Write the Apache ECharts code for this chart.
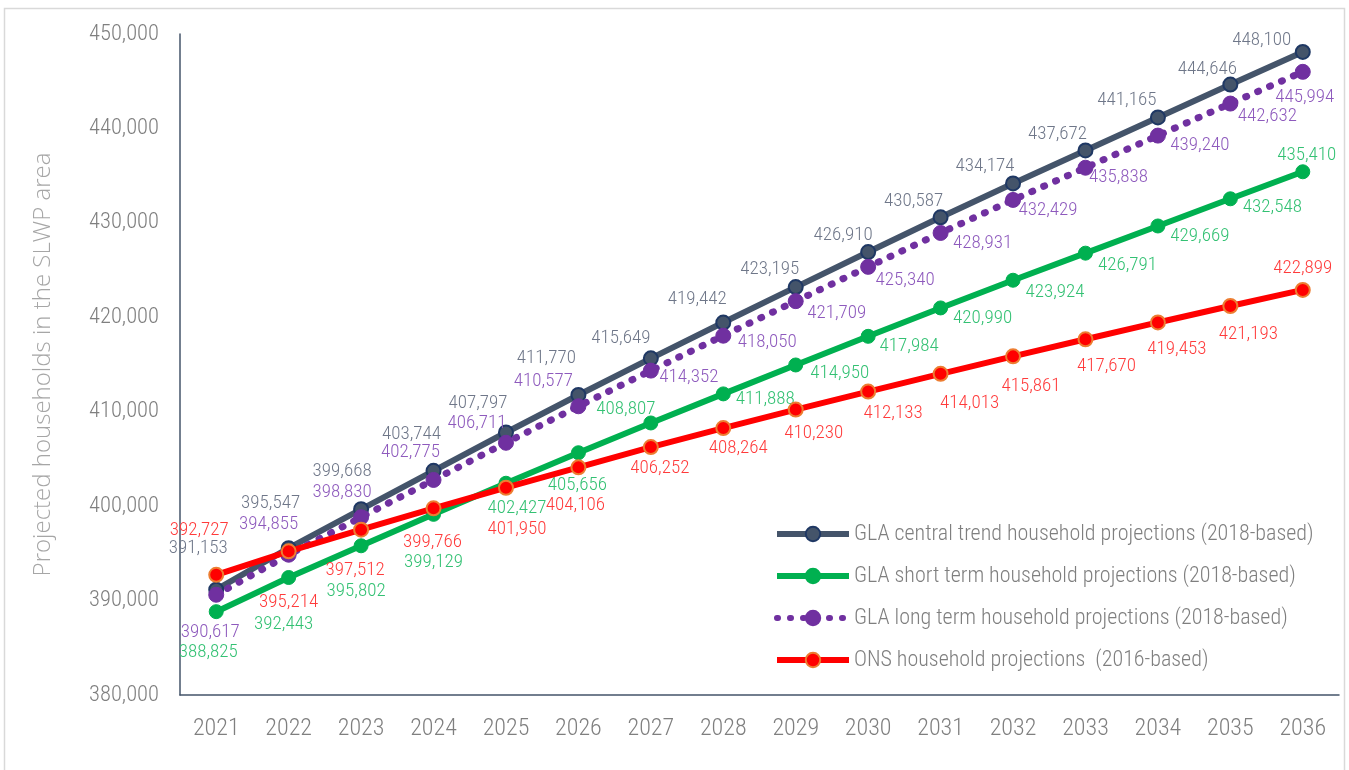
<!DOCTYPE html>
<html>
<head>
<meta charset="utf-8">
<script src="https://cdn.jsdelivr.net/npm/echarts@6/dist/echarts.min.js"></script>
<style>
html,body{margin:0;padding:0;background:#fff;}
#chart{width:1349px;height:770px;}
</style>
</head>
<body>
<div id="chart"></div>
<script>
const years = ['2021','2022','2023','2024','2025','2026','2027','2028','2029','2030','2031','2032','2033','2034','2035','2036'];
const centralTrend = [391153,395547,399668,403744,407797,411770,415649,419442,423195,426910,430587,434174,437672,441165,444646,448100];
const shortTerm = [388825,392443,395802,399129,402427,405656,408807,411888,414950,417984,420990,423924,426791,429669,432548,435410];
const longTerm = [390617,394855,398830,402775,406711,410577,414352,418050,421709,425340,428931,432429,435838,439240,442632,445994];
const onsProj = [392727,395214,397512,399766,401950,404106,406252,408264,410230,412133,414013,415861,417670,419453,421193,422899];
const seriesNames = [
  'GLA central trend household projections (2018-based)',
  'GLA short term household projections (2018-based)',
  'GLA long term household projections (2018-based)',
  'ONS household projections  (2016-based)'
];
const yAxisName = 'Projected households in the SLWP area';

// label placement (offset of label centre from its point), kept separate from data
const centralOffsets = [[-18,-41],[-18,-45],[-19,-38],[-22,-37],[-28,-29],[-32,-37],[-30,-20],[-26,-23],[-26,-18],[-25,-17],[-27,-16],[-28,-17],[-28,-16],[-31,-17],[-23,-15],[-41,-12]];
const shortOffsets = [[-8,41],[-5,47],[-5,45],[0,48],[11,25],[-1,33],[-25,-14],[42,5],[44,8],[41,10],[42,10],[42,12],[42,12],[42,10],[42,8],[4,-17]];
const longOffsets = [[-6,38],[-20,-30],[-19,-25],[-23,-28],[-29,-20],[-35,-25],[38,7],[44,7],[41,12],[37,13],[42,10],[35,10],[33,10],[42,10],[37,13],[2,25]];
const onsOffsets = [[-17,-45],[0,51],[-6,41],[-1,34],[11,42],[-3,38],[9,21],[15,20],[18,24],[25,22],[29,29],[18,30],[21,27],[19,27],[18,28],[0,-22]];

// ---- font selection: pick an installed narrow font, size text to the reference widths
const ctx = document.createElement('canvas').getContext('2d');
function w(font, txt) { ctx.font = font; return ctx.measureText(txt).width; }
function installed(fam) {
  const t = 'abcdefghijklmnopqrstuvwxyz0123456789,()';
  return w('40px "' + fam + '", monospace', t) !== w('40px monospace', t) ||
         w('40px "' + fam + '", serif', t) !== w('40px serif', t);
}
const narrowCandidates = ['Roboto Condensed', 'Liberation Sans Narrow', 'Arial Narrow', 'DejaVu Sans Condensed', 'Roboto'];
let NARROW = 'Roboto';
for (const f of narrowCandidates) { if (installed(f)) { NARROW = f; break; } }
const FONT = '"' + NARROW + '", Roboto, sans-serif';
const TITLEFONT = '"Open Sans", Roboto, sans-serif';
const WT = 300;
function sizeFor(fam, txt, target, maxSize) {
  const s = 100 * target / w(WT + ' 100px ' + fam, txt);
  return Math.min(maxSize, Math.round(s * 2) / 2);
}
const tickSize = sizeFor(FONT, '450,000', 70, 23);
const dataSize = sizeFor(FONT, '391,153', 59, 19);
const xSize = sizeFor(FONT, '2021', 47, 25);
const legendSize = sizeFor(FONT, seriesNames[0], 475, 22);
const titleSize = sizeFor(TITLEFONT, yAxisName, 423, 24);

const fmt = v => Number(v).toLocaleString('en-GB');
function build(values, offsets) {
  return values.map((v, i) => ({ value: v, label: { offset: offsets[i] } }));
}
function labelCfg(color) {
  return { show: true, position: 'inside', color: color, fontFamily: FONT, fontWeight: WT, fontSize: dataSize,
    formatter: p => fmt(p.value) };
}

const chart = echarts.init(document.getElementById('chart'), null, { renderer: 'canvas' });
chart.setOption({
  backgroundColor: '#ffffff',
  animation: false,
  graphic: [{
    type: 'rect', z: -10, silent: true,
    shape: { x: 4.5, y: 8.5, width: 1340, height: 800 },
    style: { fill: 'none', stroke: '#d9d9d9', lineWidth: 1.5 }
  }],
  grid: { left: 180, right: 10, top: 34, bottom: 75, containLabel: false },
  legend: {
    orient: 'vertical', left: 769, top: 518,
    itemWidth: 72, itemHeight: 18, itemGap: 20,
    lineStyle: { width: 6 },
    textStyle: { fontFamily: FONT, fontWeight: WT, fontSize: legendSize, color: '#7f7f7f', lineHeight: 22 },
    data: seriesNames
  },
  xAxis: {
    type: 'category', data: years, boundaryGap: true,
    axisLine: { show: true, lineStyle: { color: '#44546a', width: 1.5 } },
    axisTick: { show: false },
    axisLabel: { interval: 0, fontFamily: FONT, fontWeight: WT, fontSize: xSize, color: '#7f7f7f', margin: 22 },
    splitLine: { show: false }
  },
  yAxis: {
    type: 'value', min: 380000, max: 450000, interval: 10000,
    name: yAxisName, nameLocation: 'middle', nameGap: 125, nameRotate: 90,
    nameTextStyle: { fontFamily: TITLEFONT, fontWeight: WT, fontSize: titleSize, color: '#a6a6a6' },
    axisLine: { show: true, lineStyle: { color: '#44546a', width: 1.5 } },
    axisTick: { show: false },
    axisLabel: { fontFamily: FONT, fontWeight: WT, fontSize: tickSize, color: '#7f7f7f', margin: 21, formatter: v => fmt(v) },
    splitLine: { show: false }
  },
  series: [
    {
      name: seriesNames[0], type: 'line', data: build(centralTrend, centralOffsets),
      symbol: 'circle', symbolSize: 14, z: 2,
      lineStyle: { color: '#44546a', width: 6 },
      itemStyle: { color: '#44546a', borderColor: '#1f3864', borderWidth: 2 },
      label: labelCfg('#6f7789')
    },
    {
      name: seriesNames[1], type: 'line', data: build(shortTerm, shortOffsets),
      symbol: 'circle', symbolSize: 14, z: 3,
      lineStyle: { color: '#00b050', width: 6 },
      itemStyle: { color: '#00b050', borderColor: '#00b050', borderWidth: 1 },
      label: labelCfg('#33c173')
    },
    {
      name: seriesNames[2], type: 'line', data: build(longTerm, longOffsets),
      symbol: 'circle', symbolSize: 15, z: 4,
      lineStyle: { color: '#7030a0', width: 7, type: [1, 12], cap: 'round' },
      itemStyle: { color: '#7030a0', borderColor: '#7030a0', borderWidth: 1 },
      label: labelCfg('#8e5abd')
    },
    {
      name: seriesNames[3], type: 'line', data: build(onsProj, onsOffsets),
      symbol: 'circle', symbolSize: 14, z: 5,
      lineStyle: { color: '#ff0000', width: 6 },
      itemStyle: { color: '#ff0000', borderColor: '#ed7d31', borderWidth: 2 },
      label: labelCfg('#ff3b3b')
    }
  ]
});
</script>
</body>
</html>
